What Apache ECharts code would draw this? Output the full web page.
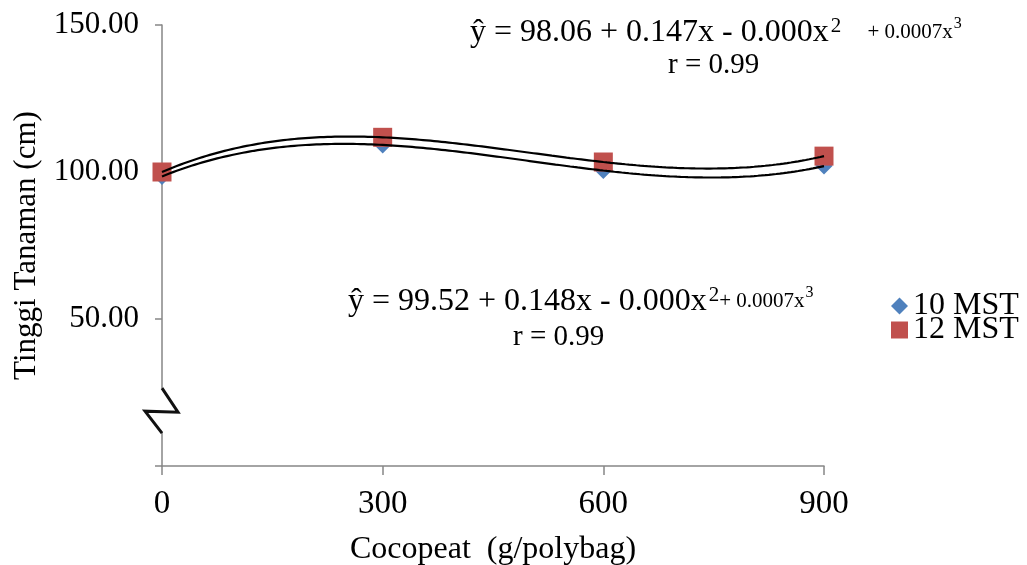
<!DOCTYPE html>
<html><head><meta charset="utf-8">
<script src="https://cdn.jsdelivr.net/npm/echarts@6/dist/echarts.min.js"></script>
<style>html,body{margin:0;padding:0;background:#fff}#c{width:1027px;height:565px}</style>
</head><body><div id="c"></div>
<script>
// ---- data ----
const xValues = [0, 300, 600, 900];
const mst10 = [98.5, 109.2, 100.5, 102.0];
const mst12 = [100.0, 111.8, 103.4, 105.4];
const seriesNames = ['10 MST', '12 MST'];
const yTickValues = [0, 50, 100, 150];
const xTickValues = [0, 300, 600, 900];
const eqTopMain = 'ŷ = 98.06 + 0.147x - 0.000x';
const eqTopTail = '+ 0.0007x';
const eqBotMain = 'ŷ = 99.52 + 0.148x - 0.000x';
const eqBotTail = '+ 0.0007x';
const rText = 'r = 0.99';
const xTitle = 'Cocopeat  (g/polybag)';
const yTitle = 'Tinggi Tanaman (cm)';

const FONT = "'Liberation Serif','Times New Roman',serif";
const AXIS_COLOR = '#868686';

// cubic polynomial trendline (least squares), like the spreadsheet's trendline
function polyFit(xs, ys, deg) {
  const s = 900;
  const n = deg + 1;
  const A = Array.from({length: n}, () => new Array(n + 1).fill(0));
  for (let k = 0; k < xs.length; k++) {
    const u = xs[k] / s;
    for (let i = 0; i < n; i++) {
      for (let j = 0; j < n; j++) A[i][j] += Math.pow(u, i + j);
      A[i][n] += ys[k] * Math.pow(u, i);
    }
  }
  for (let i = 0; i < n; i++) {
    let p = i;
    for (let r = i + 1; r < n; r++) if (Math.abs(A[r][i]) > Math.abs(A[p][i])) p = r;
    [A[i], A[p]] = [A[p], A[i]];
    for (let r = 0; r < n; r++) {
      if (r === i) continue;
      const f = A[r][i] / A[i][i];
      for (let c = i; c <= n; c++) A[r][c] -= f * A[i][c];
    }
  }
  const coef = A.map((row, i) => row[n] / row[i]);
  return x => coef.reduce((acc, c, i) => acc + c * Math.pow(x / s, i), 0);
}
function trend(ys) {
  const f = polyFit(xValues, ys, 3);
  const out = [];
  const x0 = xValues[0], x1 = xValues[xValues.length - 1];
  for (let x = x0; x <= x1; x += 5) out.push([x, f(x)]);
  return out;
}

const chart = echarts.init(document.getElementById('c'), null, {renderer: 'canvas'});
const option = {
  backgroundColor: '#fff',
  animation: false,
  textStyle: {fontFamily: FONT, color: '#000'},
  grid: {left: 162, right: 203, top: 25, bottom: 99, containLabel: false, outerBoundsMode: 'none'},
  legend: {
    orient: 'vertical', left: 886, top: 285, itemGap: -8,
    itemWidth: 17, itemHeight: 17,
    textStyle: {fontFamily: FONT, fontSize: 32, color: '#000'},
    data: [{name: seriesNames[0], icon: 'diamond'}, {name: seriesNames[1], icon: 'rect'}]
  },
  xAxis: {
    type: 'value', min: xTickValues[0], max: xTickValues[xTickValues.length - 1], interval: 300,
    splitLine: {show: false},
    axisLine: {lineStyle: {color: AXIS_COLOR, width: 1.5}},
    axisTick: {show: true, length: 9, lineStyle: {color: AXIS_COLOR, width: 1.5}},
    axisLabel: {fontFamily: FONT, fontSize: 33, color: '#000', margin: 22},
    name: xTitle, nameLocation: 'middle', nameGap: 68,
    nameTextStyle: {fontFamily: FONT, fontSize: 32, color: '#000'}
  },
  yAxis: {
    type: 'value', min: yTickValues[0], max: yTickValues[yTickValues.length - 1], interval: 50,
    splitLine: {show: false},
    axisLine: {lineStyle: {color: AXIS_COLOR, width: 1.5}},
    axisTick: {show: true, length: 7, lineStyle: {color: AXIS_COLOR, width: 1.5}},
    axisLabel: {fontFamily: FONT, fontSize: 31, color: '#000', margin: 23,
      formatter: v => v === 0 ? '' : v.toFixed(2)},
    name: yTitle, nameLocation: 'middle', nameGap: 113, nameRotate: 90,
    nameTextStyle: {fontFamily: FONT, fontSize: 31, color: '#000'}
  },
  series: [
    {name: seriesNames[0], type: 'scatter', symbol: 'diamond', symbolSize: 17,
      itemStyle: {color: '#4F81BD', opacity: 1}, z: 3,
      data: xValues.map((x, i) => [x, mst10[i]])},
    {name: seriesNames[1], type: 'scatter', symbol: 'rect', symbolSize: 19,
      itemStyle: {color: '#C0504D', opacity: 1}, z: 4,
      data: xValues.map((x, i) => [x, mst12[i]])},
    {name: 'trend10', type: 'line', showSymbol: false, silent: true, z: 6,
      lineStyle: {color: '#000', width: 2.2}, data: trend(mst10)},
    {name: 'trend12', type: 'line', showSymbol: false, silent: true, z: 6,
      lineStyle: {color: '#000', width: 2.2}, data: trend(mst12)}
  ]
};
chart.setOption(option);

// annotations + axis break mark
const p = chart.convertToPixel({gridIndex: 0}, [0, 19]);
const bx = p[0], by = p[1];
const rich = {
  m: {fontFamily: FONT, fontSize: 32, color: '#000'},
  sup: {fontFamily: FONT, fontSize: 21, color: '#000', verticalAlign: 'top', padding: [0, 0, 12, 2]},
  s: {fontFamily: FONT, fontSize: 21, color: '#000'},
  ssup: {fontFamily: FONT, fontSize: 16, color: '#000', verticalAlign: 'top', padding: [0, 0, 10, 1]},
  r: {fontFamily: FONT, fontSize: 29, color: '#000'}
};
chart.setOption({
  graphic: [
    {type: 'rect', shape: {x: bx - 20, y: by - 22, width: 48, height: 44}, style: {fill: '#fff'}, z: 10},
    {type: 'polyline', shape: {points: [[bx, by - 22], [bx + 16, by + 2], [bx - 17, by + 1], [bx, by + 23]]},
      style: {stroke: '#111', lineWidth: 3, fill: null}, z: 11},
    {type: 'text', left: 470, top: 16, z: 12,
      style: {text: '{m|' + eqTopMain + '}{sup|2}{s|     ' + eqTopTail + '}{ssup|3}', rich: rich}},
    {type: 'text', left: 668, top: 51, z: 12, style: {text: '{r|' + rText + '}', rich: rich}},
    {type: 'text', left: 348, top: 285, z: 12,
      style: {text: '{m|' + eqBotMain + '}{sup|2}{s|' + eqBotTail + '}{ssup|3}', rich: rich}},
    {type: 'text', left: 513, top: 323, z: 12, style: {text: '{r|' + rText + '}', rich: rich}}
  ]
});
</script></body></html>
